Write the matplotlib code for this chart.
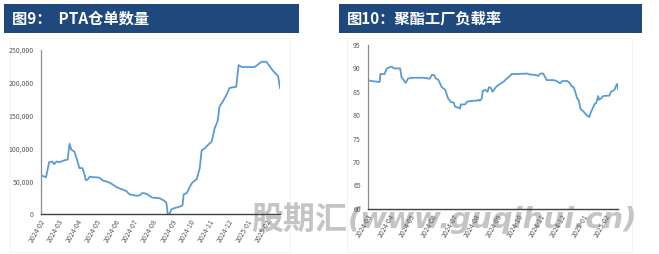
import numpy as np
import pandas as pd
import matplotlib
matplotlib.use('Agg')
import matplotlib.pyplot as plt
import matplotlib.dates as mdates
from matplotlib.patches import Rectangle
from matplotlib.ticker import FuncFormatter, MultipleLocator

plt.rcParams['font.family'] = ['Noto Sans CJK SC', 'DejaVu Sans']

# --- data ---
pta_dates = ['2024-02-01', '2024-02-02', '2024-02-07', '2024-02-10', '2024-02-15', '2024-02-20',
             '2024-02-23', '2024-02-27', '2024-03-03', '2024-03-11', '2024-03-16', '2024-03-19',
             '2024-03-22', '2024-03-27', '2024-04-01', '2024-04-04', '2024-04-09', '2024-04-13',
             '2024-04-14', '2024-04-17', '2024-04-21', '2024-04-26', '2024-05-02', '2024-05-07',
             '2024-05-12', '2024-05-20', '2024-05-28', '2024-06-03', '2024-06-11', '2024-06-19',
             '2024-06-24', '2024-07-05', '2024-07-10', '2024-07-15', '2024-07-21', '2024-07-26',
             '2024-07-31', '2024-08-12', '2024-08-20', '2024-08-23', '2024-08-25', '2024-08-28',
             '2024-08-31', '2024-09-05', '2024-09-13', '2024-09-18', '2024-09-20', '2024-09-25',
             '2024-09-29', '2024-10-04', '2024-10-11', '2024-10-16', '2024-10-19', '2024-10-24',
             '2024-10-29', '2024-11-04', '2024-11-06', '2024-11-09', '2024-11-14', '2024-11-17',
             '2024-11-22', '2024-11-28', '2024-12-03', '2024-12-14', '2024-12-18', '2024-12-23',
             '2025-01-13', '2025-01-24', '2025-02-01', '2025-02-11', '2025-02-20', '2025-02-23']
pta_values = [83000, 59000, 57000, 56000, 79000, 80000,
              76000, 80000, 79000, 82000, 83000, 107000,
              98000, 95000, 80000, 70000, 70000, 58000,
              52000, 52000, 57000, 56000, 56000, 55000,
              51000, 49000, 45000, 41000, 38000, 35000,
              30000, 28000, 28000, 32000, 31000, 28000,
              25000, 24000, 20000, 17000, 0, 0,
              7000, 9000, 11000, 13000, 30000, 32000,
              40000, 48000, 53000, 70000, 97000, 100000,
              105000, 110000, 117000, 130000, 142000, 164000,
              171000, 181000, 192000, 194000, 227000, 224000,
              224000, 232000, 232000, 219000, 210000, 192000]

load_dates = ['2024-03-01', '2024-03-06', '2024-03-18', '2024-03-19', '2024-03-25', '2024-03-28',
              '2024-04-04', '2024-04-07', '2024-04-16', '2024-04-18', '2024-04-20', '2024-04-24',
              '2024-04-27', '2024-05-02', '2024-05-19', '2024-05-28', '2024-05-31', '2024-06-03',
              '2024-06-06', '2024-06-09', '2024-06-14', '2024-06-19', '2024-06-23', '2024-06-27',
              '2024-07-01', '2024-07-03', '2024-07-08', '2024-07-10', '2024-07-11', '2024-07-17',
              '2024-07-20', '2024-07-24', '2024-07-29', '2024-08-03', '2024-08-05', '2024-08-07',
              '2024-08-10', '2024-08-11', '2024-08-15', '2024-08-18', '2024-08-20', '2024-08-23',
              '2024-08-25', '2024-08-29', '2024-08-31', '2024-09-05', '2024-09-10', '2024-09-14',
              '2024-09-19', '2024-09-21', '2024-09-28', '2024-10-13', '2024-10-17', '2024-10-25',
              '2024-10-29', '2024-11-01', '2024-11-05', '2024-11-07', '2024-11-10', '2024-11-20',
              '2024-11-24', '2024-11-29', '2024-12-02', '2024-12-09', '2024-12-13', '2024-12-15',
              '2024-12-18', '2024-12-20', '2024-12-23', '2024-12-25', '2024-12-28', '2025-01-01',
              '2025-01-05', '2025-01-09', '2025-01-12', '2025-01-17', '2025-01-19', '2025-01-22',
              '2025-01-23', '2025-01-26', '2025-01-29', '2025-02-07', '2025-02-09', '2025-02-14',
              '2025-02-16', '2025-02-18', '2025-02-19']
load_values = [87.5, 87.3, 87.1, 88.8, 88.8, 90.0,
               90.4, 90.0, 90.0, 88.1, 87.7, 86.9,
               87.8, 88.0, 88.0, 87.8, 88.6, 88.6,
               87.8, 87.6, 86.0, 85.4, 83.6, 82.8,
               82.7, 81.8, 81.6, 81.4, 82.3, 82.3,
               82.9, 83.0, 83.1, 83.1, 83.3, 83.1,
               83.6, 85.2, 85.4, 85.0, 86.0, 85.8,
               85.0, 85.8, 86.2, 86.7, 87.2, 87.8,
               88.4, 88.8, 88.8, 88.9, 88.7, 88.6,
               88.4, 88.9, 88.9, 88.3, 87.5, 87.5,
               87.3, 86.8, 87.3, 87.3, 86.8, 86.2,
               86.0, 85.2, 83.6, 83.3, 81.3, 80.8,
               80.1, 79.6, 80.8, 82.4, 82.6, 84.1,
               83.3, 83.6, 84.1, 84.2, 85.0, 85.4,
               86.2, 86.7, 85.6]

titles = ['图9：  PTA仓单数量', '图10：聚酯工厂负载率']
watermark_cn = '股期汇'
watermark_en = '(www.guqihui.cn)'

W, H = 659, 254
fig = plt.figure(figsize=(W / 100, H / 100), dpi=100)
fig.patch.set_facecolor('white')

line_color = '#5B9BD5'
bar_color = '#1F497D'
tick_color = '#595959'


def px(x0, y0, x1, y1):
    # pixel box -> figure fraction [left, bottom, width, height]
    return [x0 / W, 1 - y1 / H, (x1 - x0) / W, (y1 - y0) / H]


# faint chart frames
for x0, x1 in [(10, 290), (347, 632)]:
    l, b, w, h = px(x0, 38, x1, 252)
    fig.patches.append(Rectangle((l, b), w, h, transform=fig.transFigure,
                                 facecolor='none', edgecolor='#F2F2F2', lw=0.6, zorder=-5))

# title bars
for (x0, x1), title in zip([(4, 299), (339, 642)], titles):
    l, b, w, h = px(x0, 4, x1, 33)
    fig.patches.append(Rectangle((l, b), w, h, transform=fig.transFigure,
                                 facecolor=bar_color, edgecolor='none'))
    fig.text((x0 + 8) / W, 1 - 19 / H, title, color='white', fontsize=11,
             fontweight='bold', va='center', ha='left')


def style_axes(ax):
    ax.set_facecolor('none')
    for s in ['top', 'right']:
        ax.spines[s].set_visible(False)
    ax.spines['left'].set_color('#8C8C8C')
    ax.spines['left'].set_linewidth(0.9)
    ax.spines['bottom'].set_color('#404040')
    ax.spines['bottom'].set_linewidth(1.0)
    ax.tick_params(axis='both', length=0, colors=tick_color, labelsize=5)
    ax.tick_params(axis='y', pad=5)
    ax.tick_params(axis='x', pad=3)
    ax.xaxis.set_major_locator(mdates.MonthLocator())
    ax.xaxis.set_major_formatter(mdates.DateFormatter('%Y-%m'))
    for lab in ax.get_xticklabels():
        lab.set_rotation(60)
        lab.set_ha('right')
        lab.set_rotation_mode('anchor')


# --- left: PTA warehouse receipts ---
ax1 = fig.add_axes(px(40.5, 50, 280, 214))
d1 = pd.to_datetime(pta_dates)
ax1.plot(d1, pta_values, color=line_color, lw=1.3)
ax1.set_ylim(0, 250000)
ax1.yaxis.set_major_locator(MultipleLocator(50000))
ax1.yaxis.set_major_formatter(FuncFormatter(lambda v, p: f'{int(v):,}'))
ax1.set_xlim(d1[0], d1[-1])
style_axes(ax1)

# --- right: polyester plant load ---
ax2 = fig.add_axes(px(367.7, 45, 618, 208.8))
d2 = pd.to_datetime(load_dates)
ax2.plot(d2, load_values, color=line_color, lw=1.3)
ax2.set_ylim(60, 95)
ax2.yaxis.set_major_locator(MultipleLocator(5))
ax2.set_xlim(d2[0], d2[-1])
style_axes(ax2)

# watermark, drawn beneath the axes
fig.text(251 / W, 1 - 220 / H, watermark_cn, color='#C4C4C4', fontsize=23,
         fontweight='heavy', va='center', ha='left', zorder=-2)
fig.text(348 / W, 1 - 220 / H, watermark_en, color='#C4C4C4', fontsize=21,
         fontweight='bold', fontstyle='italic', family='DejaVu Sans',
         va='center', ha='left', zorder=-2)

fig.savefig('out.png', dpi=100, facecolor='white')
